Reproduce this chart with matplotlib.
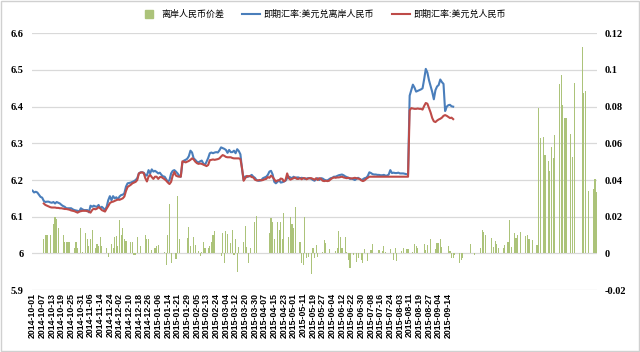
import numpy as np
import matplotlib
matplotlib.use("Agg")
import matplotlib.pyplot as plt
from matplotlib.patches import Rectangle
from matplotlib.lines import Line2D

nan = float("nan")

x_labels = ["2014-10-01", "2014-10-07", "2014-10-13", "2014-10-19", "2014-10-25", "2014-10-31",
            "2014-11-06", "2014-11-14", "2014-11-24", "2014-12-02", "2014-12-10", "2014-12-18",
            "2014-12-26", "2015-01-06", "2015-01-14", "2015-01-21", "2015-01-29", "2015-02-05",
            "2015-02-13", "2015-02-24", "2015-03-04", "2015-03-12", "2015-03-20", "2015-03-30",
            "2015-04-07", "2015-04-15", "2015-04-23", "2015-05-01", "2015-05-11", "2015-05-19",
            "2015-05-27", "2015-06-04", "2015-06-12", "2015-06-22", "2015-06-30", "2015-07-08",
            "2015-07-16", "2015-07-24", "2015-08-03", "2015-08-11", "2015-08-19", "2015-08-27",
            "2015-09-04", "2015-09-14"]

# spot USD/CNH (offshore)
usd_cnh = [
    6.171, 6.166, 6.168, 6.166, 6.160, 6.154, 6.152, 6.143, 6.140, 6.141,
    6.141, 6.139, 6.138, 6.140, 6.136, 6.140, 6.138, 6.136, 6.132, 6.129,
    6.127, 6.123, 6.123, 6.123, 6.123, 6.120, 6.118, 6.117, 6.116, 6.114,
    6.123, 6.120, 6.118, 6.118, 6.118, 6.112, 6.130, 6.127, 6.130, 6.128,
    6.127, 6.132, 6.123, 6.127, 6.123, 6.118, 6.127, 6.145, 6.156, 6.145,
    6.156, 6.150, 6.153, 6.147, 6.155, 6.159, 6.160, 6.164, 6.182, 6.191,
    6.192, 6.193, 6.195, 6.197, 6.200, 6.205, 6.218, 6.221, 6.221, 6.220,
    6.214, 6.212, 6.227, 6.218, 6.229, 6.223, 6.225, 6.222, 6.218, 6.220,
    6.214, 6.210, 6.209, 6.202, 6.195, 6.200, 6.218, 6.225, 6.227, 6.223,
    6.218, 6.212, 6.209, 6.247, 6.253, 6.255, 6.258, 6.265, 6.280, 6.275,
    6.259, 6.255, 6.250, 6.248, 6.251, 6.253, 6.245, 6.241, 6.250, 6.260,
    6.273, 6.275, 6.273, 6.275, 6.276, 6.275, 6.281, 6.289, 6.287, 6.285,
    6.282, 6.274, 6.282, 6.276, 6.276, 6.280, 6.273, 6.284, 6.279, 6.270,
    6.230, 6.200, 6.210, 6.208, 6.210, 6.211, 6.214, 6.209, 6.206, 6.200,
    6.198, 6.198, 6.200, 6.205, 6.207, 6.209, 6.214, 6.223, 6.225, 6.215,
    6.195, 6.191, 6.195, 6.200, 6.193, 6.194, 6.196, 6.198, 6.205, 6.209,
    6.207, 6.205, 6.209, 6.205, 6.207, 6.207, 6.205, 6.206, 6.205, 6.203,
    6.204, 6.205, 6.205, 6.203, 6.200, 6.198, 6.202, 6.205, 6.200, 6.205,
    6.204, 6.201, 6.199, 6.199, 6.202, 6.205, 6.206, 6.209, 6.209, 6.211,
    6.213, 6.214, 6.215, 6.213, 6.210, 6.208, 6.206, 6.203, 6.204, 6.202,
    6.200, 6.203, 6.206, 6.203, 6.200, 6.202, 6.205, 6.206, 6.211, 6.221,
    6.219, 6.216, 6.215, 6.215, 6.214, 6.214, 6.213, 6.213, 6.214, 6.212,
    6.212, 6.215, 6.227, 6.219, 6.220, 6.219, 6.219, 6.220, 6.218, 6.218,
    6.218, 6.217, 6.216, 6.215, 6.430, 6.445, 6.460, 6.452, 6.441, 6.443,
    6.445, 6.447, 6.450, 6.475, 6.503, 6.493, 6.472, 6.456, 6.440, 6.420,
    6.445, 6.455, 6.459, 6.474, 6.467, 6.462, 6.388, 6.400, 6.404, 6.405,
    6.401, 6.400]

# spot USD/CNY (onshore)
usd_cny = [
    nan, nan, nan, nan, nan, nan, nan, 6.136, 6.132, 6.130,
    6.128, 6.126, 6.125, 6.125, 6.125, 6.124, 6.124, 6.123, 6.123, 6.122,
    6.121, 6.121, 6.120, 6.119, 6.117, 6.116, 6.115, 6.113, 6.111, 6.114,
    6.115, 6.116, 6.116, 6.116, 6.115, 6.114, 6.111, 6.118, 6.122, 6.120,
    6.122, 6.126, 6.123, 6.118, 6.116, 6.114, 6.122, 6.129, 6.137, 6.140,
    6.141, 6.143, 6.145, 6.147, 6.146, 6.148, 6.150, 6.155, 6.170, 6.181,
    6.184, 6.187, 6.191, 6.193, 6.195, 6.200, 6.218, 6.220, 6.221, 6.219,
    6.205, 6.196, 6.209, 6.214, 6.208, 6.203, 6.209, 6.209, 6.203, 6.208,
    6.208, 6.205, 6.202, 6.198, 6.193, 6.189, 6.195, 6.212, 6.222, 6.212,
    6.210, 6.209, 6.209, 6.251, 6.250, 6.248, 6.250, 6.252, 6.255, 6.259,
    6.256, 6.250, 6.246, 6.244, 6.245, 6.244, 6.242, 6.240, 6.238, 6.241,
    6.254, 6.255, 6.256, 6.255, 6.256, 6.257, 6.259, 6.264, 6.268, 6.266,
    6.263, 6.262, 6.262, 6.262, 6.260, 6.259, 6.259, 6.259, 6.259, 6.257,
    6.232, 6.198, 6.205, 6.211, 6.210, 6.211, 6.208, 6.207, 6.201, 6.199,
    6.199, 6.200, 6.199, 6.200, 6.202, 6.203, 6.208, 6.206, 6.212, 6.208,
    6.202, 6.196, 6.199, 6.199, 6.204, 6.203, 6.196, 6.200, 6.218, 6.205,
    6.201, 6.203, 6.205, 6.207, 6.203, 6.203, 6.205, 6.202, 6.205, 6.205,
    6.202, 6.204, 6.205, 6.205, 6.203, 6.201, 6.205, 6.200, 6.205, 6.203,
    6.198, 6.197, 6.198, 6.197, 6.198, 6.202, 6.205, 6.207, 6.206, 6.207,
    6.207, 6.208, 6.209, 6.207, 6.206, 6.205, 6.206, 6.205, 6.204, 6.205,
    6.206, 6.205, 6.204, 6.203, 6.199, 6.197, 6.199, 6.203, 6.206, 6.209,
    6.209, 6.209, 6.209, 6.209, 6.209, 6.209, 6.209, 6.209, 6.209, 6.209,
    6.209, 6.209, 6.209, 6.209, 6.209, 6.209, 6.209, 6.209, 6.209, 6.209,
    6.209, 6.209, 6.209, 6.209, 6.390, 6.396, 6.395, 6.394, 6.394, 6.395,
    6.394, 6.394, 6.392, 6.402, 6.410, 6.408, 6.396, 6.384, 6.369, 6.360,
    6.358, 6.362, 6.365, 6.367, 6.370, 6.375, 6.377, 6.375, 6.372, 6.369,
    6.370, 6.366]

# offshore RMB spread (secondary axis)
spread = [
    0, 0, 0, 0, 0, 0, 0, 0.008, 0.010, 0.010,
    0, 0.010, 0, 0.016, 0.020, 0.019, 0.014, 0, 0, 0.010,
    0.006, 0.006, 0.006, 0.006, 0, 0, 0.003, 0.006, 0.003, 0,
    0.014, 0.001, 0, 0.011, 0.008, 0.004, 0.008, 0.013, 0, 0.003,
    0.005, 0.004, 0.009, 0.004, 0, 0, 0.003, -0.002, 0, 0.005,
    0.003, 0.009, 0.0095, 0.004, 0.018, 0.010, 0.014, 0.008, 0.007, 0,
    0, 0.006, 0.006, -0.001, -0.001, 0.009, 0, 0.004, 0, 0,
    0.010, 0.008, 0.008, 0, 0.002, 0, 0.003, 0.004, 0.0045, 0,
    0, 0, 0.001, -0.0065, 0.010, 0.027, -0.0055, 0, 0, -0.003,
    0.0315, 0.008, 0, 0, 0, 0, 0.0085, 0.0145, 0.004, 0,
    0.009, 0.0045, 0, 0.0015, -0.0013, 0.001, 0.006, 0.003, 0, 0.003,
    0.004, 0.006, 0.010, 0.012, 0, 0, 0, -0.0013, 0.011, -0.0055,
    0.012, 0.0104, 0, 0.0055, 0.0127, -0.001, 0.008, -0.010, 0.0036, 0,
    0, 0.0064, 0.015, 0.0036, -0.005, 0.0027, 0, 0, 0.0173, 0.0204,
    0, 0, 0, 0, 0, 0, 0, 0.011, 0.0195, 0.017,
    0.008, 0, 0.0173, 0.0127, 0.0173, 0.008, 0.0218, 0, 0, 0.009,
    0.020, 0.0158, 0.0136, 0.0255, 0, 0, 0.006, -0.0055, -0.0064, 0.020,
    -0.0024, -0.002, 0, -0.0115, 0.0027, -0.0027, 0.0045, -0.0018, 0, 0,
    0.001, 0.0073, 0.0055, 0, 0.0024, 0, 0, 0, 0.0013, 0.003,
    0.012, 0.009, 0.0027, 0, 0.009, 0.001, -0.0036, -0.008, 0, -0.001,
    0, -0.0045, -0.0027, 0, -0.0036, -0.0055, 0.0024, 0, -0.004, 0,
    0.0018, 0.005, 0, 0, 0, 0.0018, 0, 0.0013, 0.0042, 0.001,
    0, 0, 0.0024, 0, -0.0036, 0.0027, -0.004, 0, 0, 0.0013,
    0.0027, 0, 0.0024, 0.0024, 0, 0, 0.001, 0.005, 0.0042, 0.0027,
    0, 0, 0, 0.005, 0.0018, 0.0045, 0, 0.008, 0, 0,
    0.0024, 0.0055, 0.0055, 0.0078, 0.0036, 0, 0, 0, 0.0042, 0.0013,
    -0.0024, -0.0027, -0.001, 0, 0, -0.005, -0.0036, -0.0027, 0, 0,
    0, 0, 0.005, 0, -0.001, 0, 0, 0, 0.0027, 0.0127,
    0.0115, 0.010, 0, 0, 0, 0.0085, 0.0036, 0.0067, 0.005, 0.0027,
    0, 0, 0.003, 0.0045, 0, 0.0064, 0.018, 0.0036, 0, 0.011,
    0.0085, 0.010, 0, 0.0115, 0, 0, 0.0096, 0.010, 0.0078, 0,
    0.0073, 0, 0, 0.0045, 0.079, 0.0627, 0, 0.0636, 0.0536, 0,
    0.0504, 0.0449, 0.0582, 0.0518, 0.0645, 0, 0, 0.0922, 0.0973, 0.0809,
    0.074, 0.0736, 0, 0, 0.0653, 0.0527, 0.0927, 0, 0, 0,
    0, 0.1127, 0.0873, 0.0885, 0, 0.034, 0, 0, 0.035, 0.0405, 0.0336]

left_ticks = [5.9, 6.0, 6.1, 6.2, 6.3, 6.4, 6.5, 6.6]
left_labels = ["5.9", "6", "6.1", "6.2", "6.3", "6.4", "6.5", "6.6"]
right_ticks = [-0.02, 0, 0.02, 0.04, 0.06, 0.08, 0.10, 0.12]
right_labels = ["-0.02", "0", "0.02", "0.04", "0.06", "0.08", "0.1", "0.12"]

series_names = ["离岸人民币价差", "即期汇率:美元兑离岸人民币", "即期汇率:美元兑人民币"]

BLUE = "#4a7ebb"
RED = "#be4b48"
GREEN = "#acc37a"
GRID = "#d9d9d9"

fig = plt.figure(figsize=(6.4, 3.52), dpi=100)
ax = fig.add_axes([0.0495, 0.176, 0.884, 0.7294])
ax2 = ax.twinx()

n_cat = len(spread)
x_bar = np.arange(n_cat)
ax2.bar(x_bar, spread, width=0.7, color=GREEN, linewidth=0, zorder=2)
ax2.set_ylim(-0.02, 0.12)
ax2.set_yticks(right_ticks)
ax2.set_yticklabels(right_labels, family="Liberation Serif", fontsize=7.5, fontweight="bold")
ax2.grid(axis="y", color=GRID, linewidth=0.9)
ax2.set_axisbelow(True)

ax.set_zorder(ax2.get_zorder() + 1)
ax.patch.set_visible(False)
ax.plot(np.arange(len(usd_cnh)), usd_cnh, color=BLUE, linewidth=1.5, zorder=3)
ax.plot(np.arange(len(usd_cny)), usd_cny, color=RED, linewidth=1.5, zorder=4)
ax.set_ylim(5.9, 6.6)
ax.set_yticks(left_ticks)
ax.set_yticklabels(left_labels, family="Liberation Serif", fontsize=7.5, fontweight="bold")
ax.set_xlim(-0.5, n_cat - 0.5)
ax.set_xticks(np.arange(len(x_labels)) * 6)
ax.set_xticklabels(x_labels, rotation=90, family="Liberation Sans", fontsize=6.3, fontweight="bold")

for a in (ax, ax2):
    for s in a.spines.values():
        s.set_visible(False)
    a.tick_params(length=0)
ax.tick_params(axis="y", pad=6)
ax.tick_params(axis="x", pad=2)
ax2.tick_params(axis="y", pad=5)

handles = [Line2D([], [], marker="s", linestyle="none", color=GREEN, markersize=5.5),
           Line2D([], [], color=BLUE, linewidth=1.5),
           Line2D([], [], color=RED, linewidth=1.5)]
fig.legend(handles, series_names, loc="upper center", bbox_to_anchor=(0.504, 0.995), ncol=3,
           frameon=False, prop={"family": ["Noto Sans CJK SC", "DejaVu Sans"], "size": 6.5},
           handlelength=2.0, columnspacing=2.0, handletextpad=0.35)

fig.patches.append(Rectangle((0.001, 0.002), 0.997, 0.996, transform=fig.transFigure,
                             fill=False, edgecolor="#d0d0d0", linewidth=1))

fig.savefig("out.png", dpi=100)
